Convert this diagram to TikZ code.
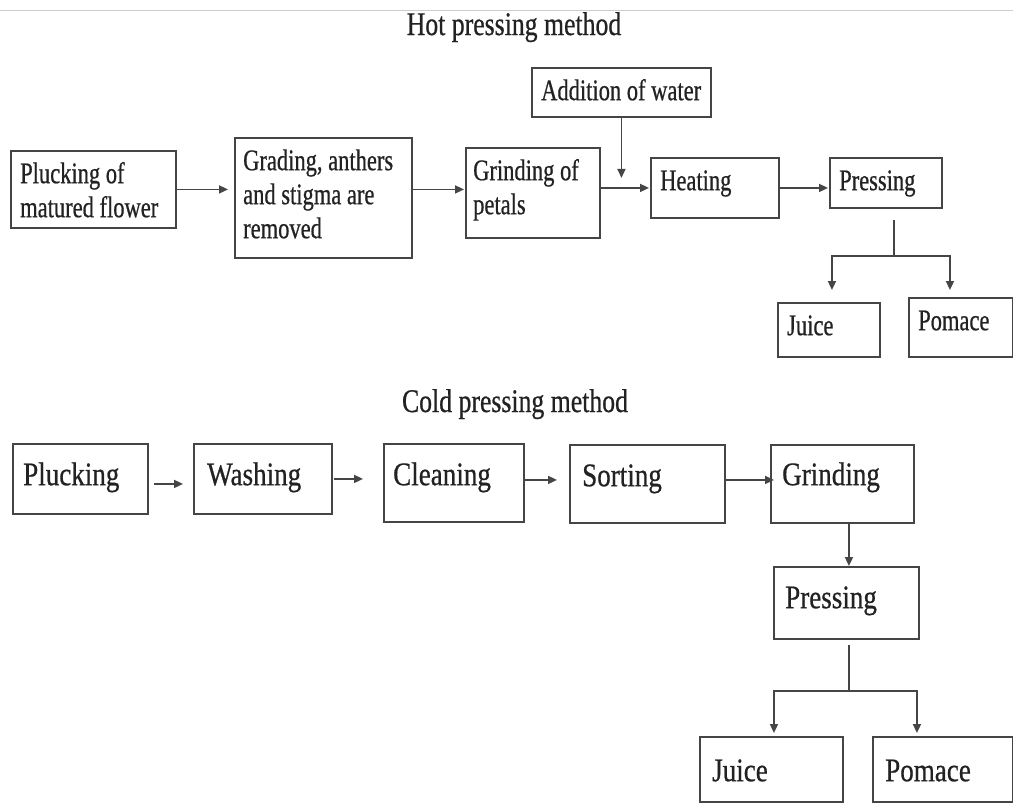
\documentclass[tikz,border=0pt]{standalone}
\usepackage{fontspec}
\setmainfont{Liberation Serif}
\newfontfamily\hotfont[FakeStretch=0.75,FakeBold=0.6]{Liberation Serif}
\newfontfamily\coldfont[FakeStretch=0.82,FakeBold=0.6]{Liberation Serif}
\newfontfamily\ttlfont[FakeStretch=0.78,FakeBold=0.6]{Liberation Serif}
\usetikzlibrary{arrows.meta}
\definecolor{linec}{HTML}{454545}
\definecolor{txtc}{HTML}{222222}
\begin{document}
\begin{tikzpicture}[x=1pt,y=-1pt,
  box/.style={draw=linec, line width=1.9pt, inner sep=0pt, anchor=north west},
  hottxt/.style={inner sep=0pt, anchor=north west, align=left, text=txtc,
    font=\hotfont\fontsize{30}{34}\selectfont},
  coldtxt/.style={inner sep=0pt, anchor=north west, align=left, text=txtc,
    font=\coldfont\fontsize{33}{38}\selectfont},
  ttl/.style={inner sep=0pt, anchor=base, text=txtc,
    font=\ttlfont\fontsize{33}{38}\selectfont},
  conn/.style={draw=linec, line width=1.7pt},
  arr/.style={conn, -{Triangle[length=9pt,width=8pt]}}]
\useasboundingbox (0,0) rectangle (1013,803);
\fill[white] (0,0) rectangle (1013,803);
\draw[black!20, line width=1pt] (0,10) -- (1013,10);

% titles
\node[ttl] (hottitle) at (514,35) {Hot pressing method};
\node[ttl] (coldtitle) at (515,412) {Cold pressing method};

% ---------- hot pressing boxes ----------
\node[box, minimum width=165pt, minimum height=77pt] (b1) at (10,150) {};
\node[box, minimum width=177pt, minimum height=120pt] (b2) at (234,137) {};
\node[box, minimum width=134pt, minimum height=90pt] (b3) at (465,147) {};
\node[box, minimum width=179pt, minimum height=49pt] (b4) at (531,67) {};
\node[box, minimum width=128pt, minimum height=60pt] (b5) at (650,157) {};
\node[box, minimum width=112pt, minimum height=50pt] (b6) at (829,157) {};
\node[box, minimum width=102pt, minimum height=54pt] (b7) at (777,302) {};
\node[box, minimum width=104pt, minimum height=59pt] (b8) at (908,297) {};

\node[hottxt] (t1) at ([xshift=10pt,yshift=-9pt]b1.north west) {\rule{0pt}{24pt}Plucking of\\matured flower};
\node[hottxt] (t2) at ([xshift=9pt,yshift=-9pt]b2.north west) {\rule{0pt}{24pt}Grading, anthers\\and stigma are\\removed};
\node[hottxt] (t3) at ([xshift=8pt,yshift=-9pt]b3.north west) {\rule{0pt}{24pt}Grinding of\\petals};
\node[hottxt] (t4) at ([xshift=10pt,yshift=-9pt]b4.north west) {\rule{0pt}{24pt}Addition of water};
\node[hottxt] (t5) at ([xshift=10pt,yshift=-9pt]b5.north west) {\rule{0pt}{24pt}Heating};
\node[hottxt] (t6) at ([xshift=10pt,yshift=-9pt]b6.north west) {\rule{0pt}{24pt}Pressing};
\node[hottxt] (t7) at ([xshift=10pt,yshift=-9pt]b7.north west) {\rule{0pt}{24pt}Juice};
\node[hottxt] (t8) at ([xshift=10pt,yshift=-9pt]b8.north west) {\rule{0pt}{24pt}Pomace};

% hot connectors
\draw[arr, shorten >=6pt] (b1.east) -- (b2.west |- b1.east);
\draw[arr, shorten >=1pt] (b2.east |- b1.east) -- (b3.west |- b1.east);
\draw[arr, shorten >=1pt] (b3.east |- b5.west) -- (b5.west);
\draw[arr, shorten >=1pt] (b5.east) -- (b6.west |- b5.east);
\coordinate (wtip) at ([yshift=-60pt]b4.south);
\draw[arr] (b4.south) -- (wtip);
\coordinate (hsplit) at ([xshift=8pt,yshift=-47pt]b6.south);
\draw[conn] ([xshift=8pt,yshift=-11pt]b6.south) -- (hsplit);
\draw[arr, shorten >=12pt] (hsplit) -| ([xshift=3pt]b7.north);
\draw[arr, shorten >=7pt] (hsplit) -| ([xshift=-11pt]b8.north);

% ---------- cold pressing boxes ----------
\node[box, minimum width=135pt, minimum height=70pt] (c1) at (12,443) {};
\node[box, minimum width=138pt, minimum height=70pt] (c2) at (193,443) {};
\node[box, minimum width=140pt, minimum height=78pt] (c3) at (383,443) {};
\node[box, minimum width=155pt, minimum height=78pt] (c4) at (569,444) {};
\node[box, minimum width=143pt, minimum height=78pt] (c5) at (770,444) {};
\node[box, minimum width=145pt, minimum height=72pt] (c6) at (773,566) {};
\node[box, minimum width=143pt, minimum height=65pt] (c7) at (699,736) {};
\node[box, minimum width=140pt, minimum height=65pt] (c8) at (872,736) {};

\node[coldtxt] (u1) at ([xshift=11pt,yshift=-15pt]c1.north west) {\rule{0pt}{27pt}Plucking};
\node[coldtxt] (u2) at ([xshift=14pt,yshift=-15pt]c2.north west) {\rule{0pt}{27pt}Washing};
\node[coldtxt] (u3) at ([xshift=10pt,yshift=-15pt]c3.north west) {\rule{0pt}{27pt}Cleaning};
\node[coldtxt] (u4) at ([xshift=13pt,yshift=-15pt]c4.north west) {\rule{0pt}{27pt}Sorting};
\node[coldtxt] (u5) at ([xshift=12pt,yshift=-14pt]c5.north west) {\rule{0pt}{27pt}Grinding};
\node[coldtxt] (u6) at ([xshift=12pt,yshift=-15pt]c6.north west) {\rule{0pt}{27pt}Pressing};
\node[coldtxt] (u7) at ([xshift=13pt,yshift=-18pt]c7.north west) {\rule{0pt}{27pt}Juice};
\node[coldtxt] (u8) at ([xshift=13pt,yshift=-18pt]c8.north west) {\rule{0pt}{27pt}Pomace};

% cold connectors
\draw[arr] ([xshift=5pt,yshift=-5pt]c1.east) -- ([xshift=-10pt,yshift=-5pt]c2.west);
\draw[arr] ([xshift=1pt]c2.east) -- ([xshift=-20pt,yshift=4pt]c3.west);
\draw[arr] ([yshift=3pt]c3.east) -- ([xshift=-12pt,yshift=4pt]c4.west);
\draw[arr] ([yshift=4pt]c4.east) -- ([xshift=4pt,yshift=4pt]c5.west);
\draw[arr] ([xshift=6.5pt]c5.south) -- ([xshift=2.5pt]c6.north);
\coordinate (csplit) at ([xshift=2.5pt,yshift=-51pt]c6.south);
\draw[conn] ([xshift=2.5pt,yshift=-5pt]c6.south) -- (csplit);
\draw[arr, shorten >=3pt] (csplit) -| ([xshift=2.5pt]c7.north);
\draw[arr, shorten >=3pt] (csplit) -| ([xshift=-26pt]c8.north);
\end{tikzpicture}
\end{document}
